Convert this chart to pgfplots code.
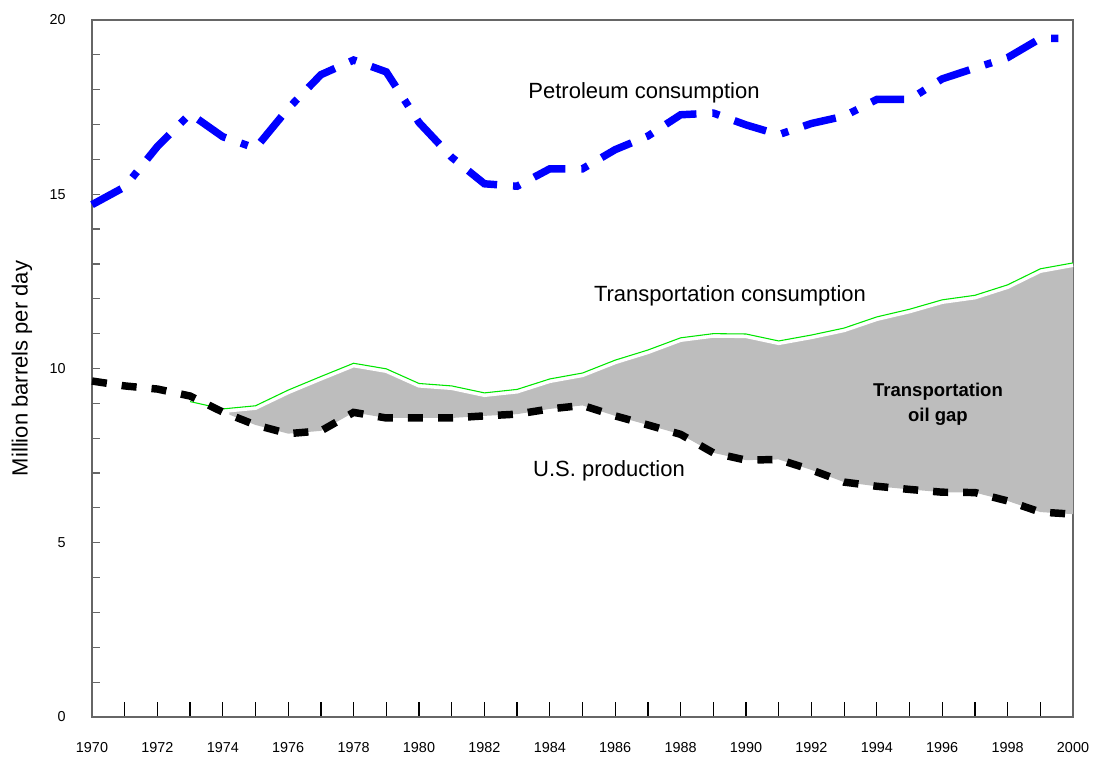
\documentclass[border=0pt]{standalone}
\usepackage{fontspec}
\setmainfont{Liberation Sans}
\usepackage{pgfplots}
\pgfplotsset{compat=1.18}
\usepgfplotslibrary{fillbetween}

\begin{document}
\begin{tikzpicture}
\begin{axis}[
    scale only axis,
    width=735.75pt, height=522.75pt,
    xmin=1970, xmax=2000, ymin=0, ymax=20,
    xtick={1970,1971,...,2000},
    xticklabels={1970,,1972,,1974,,1976,,1978,,1980,,1982,,1984,,1986,,1988,,1990,,1992,,1994,,1996,,1998,,2000},
    ytick={0,5,...,20},
    minor y tick num=4,
    xtick pos=bottom, ytick pos=left,
    tick align=inside,
    axis line style={black!60, line width=0.9pt},
    x tick style={black, line width=0.9pt, /pgfplots/major tick length=11.25pt},
    y tick style={black!60, line width=0.9pt, /pgfplots/major tick length=6pt},
    minor y tick style={black!60, line width=0.9pt, /pgfplots/minor tick length=6pt},
    tick label style={font=\fontsize{10.8}{12}\selectfont},
    xticklabel style={anchor=center, yshift=-23.25pt},
    yticklabel style={anchor=east, inner sep=0pt, xshift=-19.5pt,
                      /pgf/number format/assume math mode=true},
    ylabel={Million barrels per day},
    ylabel style={at={(axis description cs:-0.0714,0.5)}, anchor=center,
                  font=\fontsize{16.5}{19}\selectfont},
    clip=false,
]
% Transportation consumption
\addplot[draw=none, name path=trans, forget plot] coordinates {
  (1973,9.05) (1974,8.84) (1975,8.93) (1976,9.38) (1977,9.77) (1978,10.15)
  (1979,9.99) (1980,9.57) (1981,9.50) (1982,9.30) (1983,9.40) (1984,9.70)
  (1985,9.87) (1986,10.24) (1987,10.53) (1988,10.88) (1989,11.00) (1990,10.99)
  (1991,10.79) (1992,10.96) (1993,11.16) (1994,11.48) (1995,11.70) (1996,11.97)
  (1997,12.10) (1998,12.40) (1999,12.86) (2000,13.03)
};
% U.S. production
\addplot[draw=none, name path=prod, forget plot] coordinates {
  (1970,9.64) (1971,9.50) (1972,9.41) (1973,9.21) (1974,8.75) (1975,8.38)
  (1976,8.13) (1977,8.21) (1978,8.74) (1979,8.58) (1980,8.58) (1981,8.58)
  (1982,8.64) (1983,8.69) (1984,8.84) (1985,8.94) (1986,8.64) (1987,8.38)
  (1988,8.11) (1989,7.58) (1990,7.37) (1991,7.39) (1992,7.09) (1993,6.74)
  (1994,6.62) (1995,6.53) (1996,6.45) (1997,6.44) (1998,6.20) (1999,5.88)
  (2000,5.82)
};
% transportation oil gap
\addplot[fill=black!26, draw=none] fill between[of=trans and prod, soft clip={domain=1974.2:2000}];

% white strip under the green line, then the green line
\addplot[white, line width=3pt, yshift=-1.6pt] coordinates {
  (1973,9.05) (1974,8.84) (1975,8.93) (1976,9.38) (1977,9.77) (1978,10.15)
  (1979,9.99) (1980,9.57) (1981,9.50) (1982,9.30) (1983,9.40) (1984,9.70)
  (1985,9.87) (1986,10.24) (1987,10.53) (1988,10.88) (1989,11.00) (1990,10.99)
  (1991,10.79) (1992,10.96) (1993,11.16) (1994,11.48) (1995,11.70) (1996,11.97)
  (1997,12.10) (1998,12.40) (1999,12.86) (2000,13.03)
};
\addplot[color={rgb,255:red,0;green,230;blue,0}, line width=0.8pt] coordinates {
  (1973,9.05) (1974,8.84) (1975,8.93) (1976,9.38) (1977,9.77) (1978,10.15)
  (1979,9.99) (1980,9.57) (1981,9.50) (1982,9.30) (1983,9.40) (1984,9.70)
  (1985,9.87) (1986,10.24) (1987,10.53) (1988,10.88) (1989,11.00) (1990,10.99)
  (1991,10.79) (1992,10.96) (1993,11.16) (1994,11.48) (1995,11.70) (1996,11.97)
  (1997,12.10) (1998,12.40) (1999,12.86) (2000,13.03)
};

% U.S. production line
\addplot[black, line width=5.6pt, dash pattern=on 11.25pt off 11.25pt] coordinates {
  (1970,9.64) (1971,9.50) (1972,9.41) (1973,9.21) (1974,8.75) (1975,8.38)
  (1976,8.13) (1977,8.21) (1978,8.74) (1979,8.58) (1980,8.58) (1981,8.58)
  (1982,8.64) (1983,8.69) (1984,8.84) (1985,8.94) (1986,8.64) (1987,8.38)
  (1988,8.11) (1989,7.58) (1990,7.37) (1991,7.39) (1992,7.09) (1993,6.74)
  (1994,6.62) (1995,6.53) (1996,6.45) (1997,6.44) (1998,6.20) (1999,5.88)
  (2000,5.82)
};

% Petroleum consumption
\addplot[blue, line width=5.6pt, dash pattern=on 25pt off 12pt on 5.5pt off 12pt] coordinates {
  (1970,14.70) (1971,15.21) (1972,16.37) (1973,17.31) (1974,16.65) (1975,16.32)
  (1976,17.46) (1977,18.43) (1978,18.85) (1979,18.51) (1980,17.06) (1981,16.06)
  (1982,15.30) (1983,15.23) (1984,15.73) (1985,15.73) (1986,16.28) (1987,16.67)
  (1988,17.28) (1989,17.33) (1990,16.99) (1991,16.71) (1992,17.03) (1993,17.24)
  (1994,17.72) (1995,17.72) (1996,18.31) (1997,18.62) (1998,18.92) (1999,19.47)
  (2000,19.47)
};

\node[font=\fontsize{16.5}{19}\selectfont] at (axis cs:1986.88,17.9) {Petroleum consumption};
\node[font=\fontsize{16.5}{19}\selectfont] at (axis cs:1989.51,12.08) {Transportation consumption};
\node[font=\fontsize{16.5}{19}\selectfont] at (axis cs:1985.81,7.06) {U.S. production};
\node[font=\bfseries\fontsize{13.9}{18.5}\selectfont, align=center] at (axis cs:1995.87,8.98) {Transportation\\oil gap};
\end{axis}
\pgfresetboundingbox
\path (current axis.south west) ++(-69pt,-31.5pt) coordinate (bbsw);
\path (current axis.north east) ++(15pt,15pt) coordinate (bbne);
\path[use as bounding box] (bbsw) rectangle (bbne);
\end{tikzpicture}
\end{document}
